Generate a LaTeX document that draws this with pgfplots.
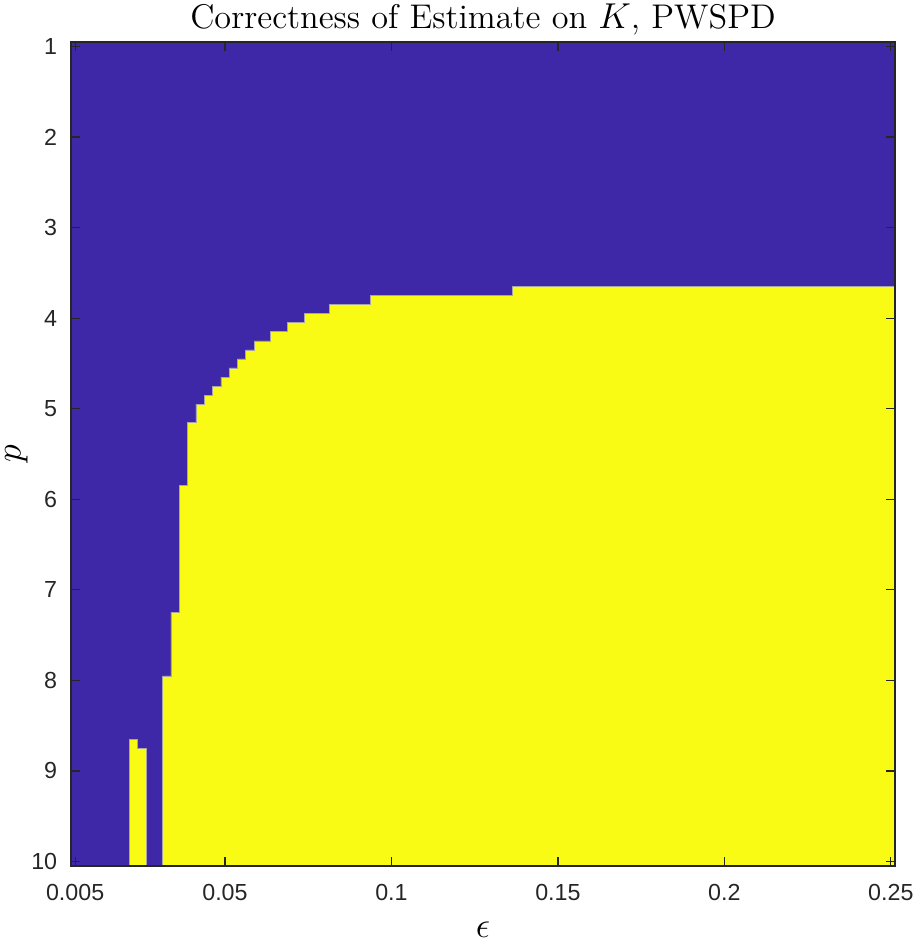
\documentclass[border=0pt]{standalone}
\usepackage{fontspec}
\usepackage{pgfplots}
\pgfplotsset{compat=1.18}
\usetikzlibrary{calc}
\newfontfamily\ticksf{Liberation Sans}
\definecolor{pblue}{RGB}{62,40,168}
\definecolor{pyellow}{RGB}{249,251,21}
\definecolor{axc}{RGB}{38,38,38}
\begin{document}
\begin{tikzpicture}
\begin{axis}[name=ax, scale only axis, width=329.6pt, height=329.6pt,
  xmin=0.00375, xmax=0.25125, ymin=0.95, ymax=10.05, y dir=reverse,
  axis background/.style={fill=pblue},
  xtick={0.005,0.05,0.1,0.15,0.2,0.25},
  xticklabels={0.005,0.05,0.1,0.15,0.2,0.25},
  ytick={1,2,3,4,5,6,7,8,9,10},
  yticklabels={1,2,3,4,5,6,7,8,9,10},
  tick align=inside, tick pos=both, major tick length=3.6pt,
  axis line style={axc, line width=0.6pt},
  every tick/.style={axc, line width=0.5pt},
  ticklabel style={font=\ticksf\fontsize{9.3}{11}\selectfont, text=axc},
  /pgf/number format/assume math mode=true,
  xticklabel style={yshift=-3.8pt},
  yticklabel style={xshift=-2pt},
  title={Correctness of Estimate on $K$, PWSPD},
  every axis title/.style={at={(0.5,1)}, anchor=base, yshift=5.6pt, font=\fontsize{13.7}{16}\selectfont},
  xlabel={$\epsilon$},
  every axis x label/.style={at={(rel axis cs:0.5,0)}, anchor=center, yshift=-25.4pt, font=\fontsize{13.7}{16}\selectfont},
  ylabel={$p$},
  every axis y label/.style={at={(rel axis cs:0,0.5)}, anchor=center, xshift=-21.8pt, rotate=90, font=\fontsize{13.7}{16}\selectfont},
  axis on top,
]
\addplot[fill=pyellow, draw=gray!70, line width=0.25pt] coordinates {
(0.03125,10.05) (0.03125,7.95) (0.03375,7.95) (0.03375,7.25) (0.03625,7.25)
(0.03625,5.85) (0.03875,5.85) (0.03875,5.15) (0.04125,5.15) (0.04125,4.95)
(0.04375,4.95) (0.04375,4.85) (0.04625,4.85) (0.04625,4.75) (0.04875,4.75)
(0.04875,4.65) (0.05125,4.65) (0.05125,4.55) (0.05375,4.55) (0.05375,4.45)
(0.05625,4.45) (0.05625,4.35) (0.05875,4.35) (0.05875,4.25) (0.06375,4.25)
(0.06375,4.15) (0.06875,4.15) (0.06875,4.05) (0.07375,4.05) (0.07375,3.95)
(0.08125,3.95) (0.08125,3.85) (0.09375,3.85) (0.09375,3.75) (0.13625,3.75)
(0.13625,3.65) (0.25125,3.65) (0.25125,10.05)
} -- cycle;
\addplot[fill=pyellow, draw=gray!70, line width=0.25pt] coordinates {
(0.02125,10.05) (0.02125,8.65) (0.02375,8.65) (0.02375,8.75) (0.02625,8.75) (0.02625,10.05)
} -- cycle;
\end{axis}
\pgfresetboundingbox
\path ($(ax.south west)+(-28.4pt,-28.8pt)$) rectangle ($(ax.north east)+(7.2pt,16.8pt)$);
\end{tikzpicture}
\end{document}
